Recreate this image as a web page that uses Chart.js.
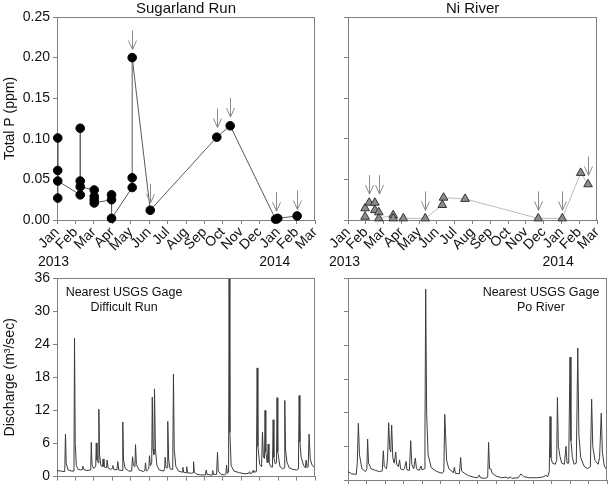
<!DOCTYPE html>
<html>
<head>
<meta charset="utf-8">
<script src="https://cdn.jsdelivr.net/npm/chart.js@4.4.1/dist/chart.umd.min.js"></script>
<style>
  html, body { margin: 0; padding: 0; background: #fff; }
  #wrap { position: relative; width: 609px; height: 488px; overflow: hidden; }
  #wrap canvas { position: absolute; left: 0; top: 0; }
</style>
</head>
<body>
<div id="wrap">
  <canvas id="sugar" width="609" height="488"></canvas>
  <canvas id="ni" width="609" height="488"></canvas>
  <canvas id="difficult" width="609" height="488"></canvas>
  <canvas id="po" width="609" height="488"></canvas>
</div>
<script>
// x values are months since 1 Jan 2013 (0 = Jan 2013, 12 = Jan 2014)
const monthLabels = ['Jan','Feb','Mar','Apr','May','Jun','Jul','Aug','Sep','Oct','Nov','Dec','Jan','Feb','Mar'];
const yearLabels = ['2013', '2014'];
const yearMonths = [0, 12];

// Sugarland Run, total P (ppm), in sampling order
const sugarMonth = [0.04,0.04,0.04,0.04, 1.26,1.26,1.26,1.26, 2.02,2.02,2.02,2.02, 2.96,2.96,2.96, 4.08,4.08,4.08, 5.06, 8.67, 9.40, 11.86, 11.98, 13.03];
const sugarTP = [0.101,0.061,0.027,0.048, 0.031,0.113,0.048,0.041, 0.037,0.029,0.025,0.021, 0.025,0.031,0.002, 0.040,0.052,0.200, 0.012, 0.102, 0.116, 0.001, 0.002, 0.005];
const sugarArrowMonth = [4.08, 5.06, 8.67, 9.40, 11.86, 13.03];
const sugarArrowTP = [0.200, 0.011, 0.104, 0.117, 0.001, 0.003];

// Ni River, total P (ppm)
const niMonth = [0.96,0.96, 1.19, 1.51,1.51, 1.73,1.73, 2.54,2.54, 3.11, 4.34, 5.30, 5.37, 6.58, 10.69, 12.04, 13.08, 13.49];
const niTP = [0.004,0.0144, 0.0213, 0.0213,0.0123, 0.0095,0.002, 0.006,0.002, 0.002, 0.002, 0.0185, 0.0275, 0.026, 0.002, 0.002, 0.058, 0.044];
const niArrowMonth = [1.19, 1.73, 4.34, 10.69, 12.04, 13.49];
const niArrowTP = [0.022, 0.022, 0.002, 0.002, 0.002, 0.045];

// discharge (m3/sec) at nearest USGS gages: [month, Q]
const difficultRun = [
  [0.00,1.1],[0.20,1.0],[0.42,0.9],[0.46,7.7],[0.50,2.4],[0.60,1.2],[0.80,1.0],[0.92,1.0],[0.95,25.1],[0.99,6.0],
  [1.05,2.0],[1.15,1.3],[1.30,1.2],[1.37,1.3],[1.40,1.9],[1.45,1.3],[1.60,1.1],[1.83,1.2],[1.86,6.2],[1.90,2.2],
  [1.98,1.5],[2.10,1.8],[2.13,6.1],[2.17,3.0],[2.24,2.5],[2.27,12.2],[2.31,4.0],[2.38,2.0],[2.47,1.8],[2.50,3.2],
  [2.55,1.8],[2.69,1.6],[2.72,3.0],[2.77,1.6],[2.90,1.3],[3.00,1.5],[3.03,2.0],[3.08,1.3],[3.25,1.2],[3.30,2.7],
  [3.35,1.2],[3.53,1.1],[3.57,9.9],[3.61,3.0],[3.70,1.5],[3.90,1.0],[4.05,1.0],[4.10,3.6],[4.15,2.0],[4.23,1.8],
  [4.26,5.8],[4.31,2.2],[4.45,1.2],[4.70,0.9],[4.77,1.2],[4.80,2.5],[4.85,1.0],[4.98,1.4],[5.02,3.8],[5.07,2.0],
  [5.14,2.5],[5.17,14.4],[5.21,5.0],[5.26,4.0],[5.29,15.9],[5.34,5.0],[5.42,2.0],[5.55,1.2],[5.80,1.0],[5.84,1.5],
  [5.87,3.5],[5.92,1.6],[5.98,1.6],[6.01,10.0],[6.06,3.0],[6.14,1.4],[6.28,1.3],[6.32,18.6],[6.36,5.0],[6.45,1.8],
  [6.60,1.0],[6.80,0.8],[6.83,1.7],[6.87,0.8],[7.00,0.7],[7.04,1.8],[7.08,0.7],[7.30,0.6],[7.38,0.7],[7.41,2.7],
  [7.45,0.8],[7.60,0.4],[7.80,0.3],[8.05,0.3],[8.10,1.2],[8.14,0.4],[8.30,0.3],[8.42,0.3],[8.45,1.1],[8.49,0.4],
  [8.66,0.4],[8.71,4.4],[8.75,1.0],[8.90,0.4],[9.10,0.3],[9.17,0.5],[9.20,2.1],[9.24,0.6],[9.31,0.8],[9.34,36],
  [9.38,8.0],[9.45,2.0],[9.60,1.0],[9.90,0.7],[10.20,0.5],[10.40,0.6],[10.45,0.9],[10.50,0.5],[10.60,0.7],[10.64,1.1],
  [10.68,0.8],[10.82,0.9],[10.86,19.7],[10.90,5.5],[11.00,2.2],[11.10,1.8],[11.15,8.1],[11.20,3.5],[11.26,3.3],[11.29,12.0],
  [11.33,4.5],[11.41,2.5],[11.46,5.9],[11.50,2.6],[11.60,1.8],[11.69,1.7],[11.73,10.3],[11.77,3.5],[11.84,2.3],[11.91,2.5],
  [11.94,14.3],[11.98,4.5],[12.10,1.8],[12.25,1.4],[12.32,1.6],[12.36,13.8],[12.40,5.0],[12.48,2.6],[12.60,1.6],[12.80,1.3],
  [13.00,1.2],[13.10,1.4],[13.14,14.7],[13.18,6.3],[13.25,3.5],[13.38,2.0],[13.47,1.6],[13.52,3.0],[13.57,1.6],[13.63,1.8],
  [13.68,7.7],[13.74,3.2],[13.85,2.0],[14.00,1.6]
];
const poRiver = [
  [0.00,1.5],[0.20,1.1],[0.45,1.0],[0.50,3.0],[0.56,10.1],[0.62,4.5],[0.75,2.0],[0.95,1.5],[1.02,2.0],[1.06,7.3],
  [1.11,3.0],[1.25,2.0],[1.50,1.7],[1.70,1.5],[1.85,1.6],[1.91,5.2],[1.96,2.4],[2.08,2.0],[2.14,4.0],[2.20,10.2],
  [2.26,5.5],[2.31,5.0],[2.36,9.8],[2.42,4.0],[2.50,3.0],[2.58,5.0],[2.63,2.8],[2.72,2.4],[2.79,3.6],[2.84,2.0],
  [2.98,1.8],[3.05,2.0],[3.14,3.3],[3.19,1.8],[3.32,1.7],[3.39,7.0],[3.45,2.8],[3.55,2.0],[3.64,3.9],[3.70,2.0],
  [3.85,1.7],[3.95,2.5],[4.00,1.8],[4.12,2.0],[4.16,8.0],[4.20,34.0],[4.25,12.0],[4.33,4.5],[4.50,2.2],[4.80,1.5],
  [5.10,1.2],[5.18,1.6],[5.23,11.7],[5.27,8.5],[5.33,3.5],[5.45,2.0],[5.70,1.3],[5.75,2.3],[5.80,1.2],[6.02,1.1],
  [6.09,4.0],[6.14,1.6],[6.30,1.2],[6.50,0.8],[6.80,0.5],[7.00,0.4],[7.10,0.9],[7.15,0.4],[7.40,0.3],[7.55,0.5],
  [7.60,6.7],[7.65,2.0],[7.72,2.0],[7.80,1.2],[8.00,0.7],[8.30,0.4],[8.50,0.5],[8.70,0.3],[8.76,0.6],[8.85,0.3],
  [9.20,0.4],[9.35,1.1],[9.50,0.6],[9.80,0.4],[10.20,0.4],[10.50,0.5],[10.70,0.8],[10.80,0.6],[10.88,1.5],[10.92,11.3],
  [10.97,4.0],[11.05,3.0],[11.20,2.8],[11.28,3.5],[11.32,14.7],[11.37,6.0],[11.46,4.2],[11.55,3.0],[11.70,2.8],[11.78,6.0],
  [11.84,3.0],[11.93,3.0],[12.00,21.9],[12.05,7.0],[12.13,4.0],[12.22,2.8],[12.34,3.0],[12.42,23.5],[12.48,8.0],[12.58,4.0],
  [12.75,2.5],[12.95,2.0],[13.10,2.4],[13.17,14.4],[13.23,6.0],[13.35,3.5],[13.52,2.8],[13.60,4.0],[13.69,11.9],[13.75,5.0],
  [13.85,2.5],[14.00,1.8]
];

const FONT = '"Liberation Sans", Arial, sans-serif';
const AXIS = '#7f7f7f';
Chart.defaults.font.family = FONT;
Chart.defaults.color = '#111';

const pts = (xs, ys) => xs.map((m, i) => ({ x: m, y: ys[i] }));
const pairs = arr => arr.map(p => ({ x: p[0], y: p[1] }));

function xAxis(labels, height) {
  return {
    type: 'linear', min: 0, max: 14,
    ticks: {
      stepSize: 1, display: labels, autoSkip: false, minRotation: 45, maxRotation: 45,
      padding: 0, font: { size: 14 }, callback: v => monthLabels[v]
    },
    grid: { drawOnChartArea: false, tickLength: 4, color: AXIS },
    border: { color: AXIS },
    afterFit: s => { s.height = height; }
  };
}

function yAxis(max, step, labels, fmt, title, width) {
  return {
    min: 0, max: max,
    ticks: { stepSize: step, display: labels, padding: 3, font: { size: 14 }, callback: fmt },
    grid: { drawOnChartArea: false, tickLength: 4, color: AXIS },
    border: { color: AXIS },
    title: { display: !!title, text: title, font: { size: 14 }, padding: { top: 2, bottom: 0 } },
    afterFit: s => { s.width = width; }
  };
}

// titles, frame, arrows, year labels and gage notes
function panelPlugin(p) {
  return {
    id: 'panel',
    afterDraw(chart) {
      const { ctx, chartArea: a, scales: { x, y } } = chart;
      ctx.save();
      ctx.strokeStyle = AXIS;
      ctx.lineWidth = 1;
      ctx.beginPath();
      ctx.moveTo(Math.round(a.left), Math.round(a.top) + 0.5);
      ctx.lineTo(Math.round(a.right), Math.round(a.top) + 0.5);
      ctx.moveTo(Math.round(a.right) - 0.5, Math.round(a.top));
      ctx.lineTo(Math.round(a.right) - 0.5, Math.round(a.bottom));
      ctx.stroke();

      ctx.fillStyle = '#111';
      if (p.title) {
        ctx.font = '15px ' + FONT;
        ctx.textAlign = 'center';
        ctx.textBaseline = 'middle';
        ctx.fillText(p.title, (a.left + a.right) / 2, a.top - 8);
      }
      if (p.years) {
        ctx.font = '14px ' + FONT;
        ctx.textAlign = 'left';
        ctx.textBaseline = 'middle';
        yearLabels.forEach((t, i) => {
          ctx.fillText(t, x.getPixelForValue(yearMonths[i]) - 19, a.bottom + 42);
        });
      }
      if (p.note) {
        ctx.font = '12.5px ' + FONT;
        ctx.textAlign = 'center';
        ctx.textBaseline = 'middle';
        const cx = p.noteRight ? a.right - 66 : a.left + 67;
        p.note.forEach((t, i) => ctx.fillText(t, cx, a.top + 15 + i * 15));
      }
      if (p.arrowMonth) {
        ctx.strokeStyle = '#8a8a8a';
        ctx.beginPath();
        p.arrowMonth.forEach((m, i) => {
          const px = Math.round(x.getPixelForValue(m)) + 0.5;
          const py = y.getPixelForValue(p.arrowTP[i]) - 8;
          ctx.moveTo(px, py - 19);
          ctx.lineTo(px, py);
          ctx.moveTo(px - 4, py - 9);
          ctx.lineTo(px, py);
          ctx.lineTo(px + 4, py - 9);
        });
        ctx.stroke();
      }
      ctx.restore();
    }
  };
}

function makePanel(id, datasets, scales, padding, p) {
  new Chart(document.getElementById(id), {
    type: 'scatter',
    data: { datasets: datasets },
    options: {
      responsive: false,
      animation: false,
      events: [],
      layout: { padding: padding },
      plugins: { legend: { display: false }, tooltip: { enabled: false } },
      scales: scales
    },
    plugins: [panelPlugin(p)]
  });
}

const fmtTP = v => v.toFixed(2);

makePanel('sugar', [{
  data: pts(sugarMonth, sugarTP), showLine: true, borderColor: '#5a5a5a', borderWidth: 1,
  pointRadius: 4.3, pointBackgroundColor: '#000', pointBorderColor: '#000', clip: false
}], {
  x: xAxis(true, 40),
  y: yAxis(0.25, 0.05, true, fmtTP, 'Total P (ppm)', 57)
}, { left: 0, top: 17, right: 294, bottom: 228 },
{ title: 'Sugarland Run', years: true, arrowMonth: sugarArrowMonth, arrowTP: sugarArrowTP });

makePanel('ni', [{
  data: pts(niMonth, niTP), showLine: true, borderColor: '#bdbdbd', borderWidth: 1,
  pointStyle: 'triangle', pointRadius: 5, pointBackgroundColor: '#8c8c8c',
  pointBorderColor: '#333', pointBorderWidth: 1, clip: false
}], {
  x: xAxis(true, 40),
  y: yAxis(0.25, 0.05, false, fmtTP, '', 10)
}, { left: 338, top: 17, right: 2, bottom: 228 },
{ title: 'Ni River', years: true, arrowMonth: niArrowMonth, arrowTP: niArrowTP });

makePanel('difficult', [{
  data: pairs(difficultRun), showLine: true, borderColor: '#3c3c3c', borderWidth: 1,
  borderJoinStyle: 'round', pointRadius: 0
}], {
  x: xAxis(false, 6),
  y: yAxis(36, 6, true, v => v, 'Discharge (m³/sec)', 57)
}, { left: 0, top: 278, right: 294, bottom: 2 },
{ note: ['Nearest USGS Gage', 'Difficult Run'] });

makePanel('po', [{
  data: pairs(poRiver), showLine: true, borderColor: '#3c3c3c', borderWidth: 1,
  borderJoinStyle: 'round', pointRadius: 0
}], {
  x: xAxis(false, 6),
  y: yAxis(36, 6, false, v => v, '', 10)
}, { left: 338, top: 278, right: 2, bottom: 2 },
{ note: ['Nearest USGS Gage', 'Po River'], noteRight: true });
</script>
</body>
</html>
